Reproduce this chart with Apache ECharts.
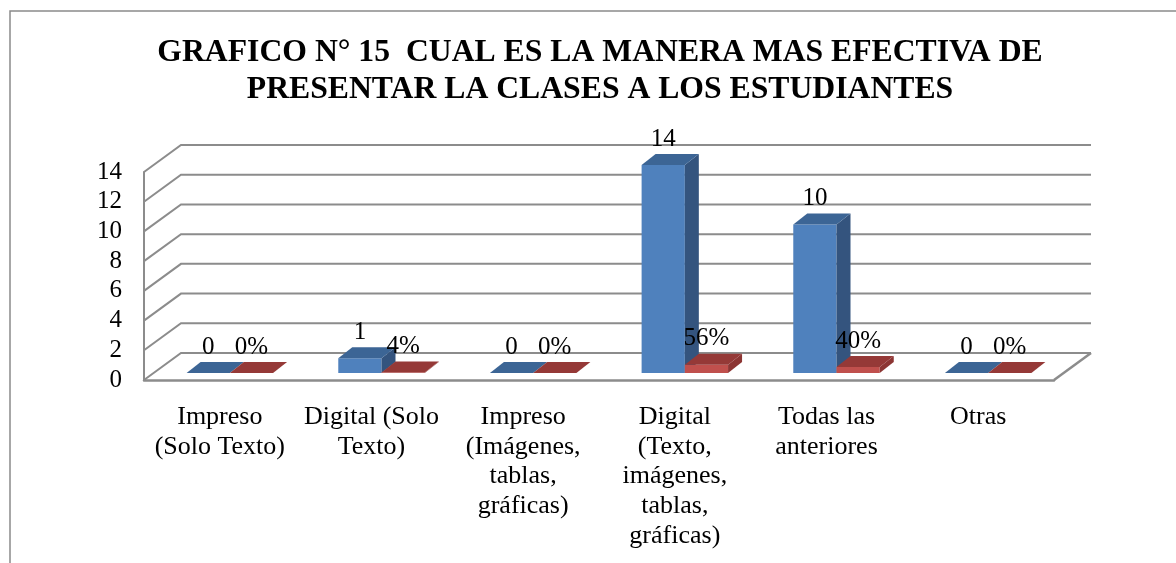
<!DOCTYPE html>
<html>
<head>
<meta charset="utf-8">
<script src="https://cdn.jsdelivr.net/npm/echarts@6/dist/echarts.min.js"></script>
<style>
  html, body { margin: 0; padding: 0; background: #fff; }
  #main { width: 1176px; height: 563px; }
</style>
</head>
<body>
<div id="main"></div>
<script>
// data
const categories = [
  'Impreso\n(Solo Texto)',
  'Digital (Solo\nTexto)',
  'Impreso\n(Imágenes,\ntablas,\ngráficas)',
  'Digital\n(Texto,\nimágenes,\ntablas,\ngráficas)',
  'Todas las\nanteriores',
  'Otras'
];
const counts = [0, 1, 0, 14, 10, 0];
const percents = [0, 4, 0, 56, 40, 0];
const yTicks = [0, 2, 4, 6, 8, 10, 12, 14];

// style constants
const FONT = '"Liberation Serif", "Times New Roman", serif';
const DEPTH = [37, -27];      // back wall offset
const BAR_OFF = [10, -7];     // bars sit a bit into the floor
const BAR_DEPTH = [14, -11];
const GRID_COLOR = '#8c8c8c';

const chart = echarts.init(document.getElementById('main'));

function wallRender(params, api) {
  const cs = params.coordSys;
  const v = api.value(1);
  const y = api.coord([0, v])[1];
  const gx = cs.x, gr = cs.x + cs.width;
  const children = [{
    type: 'polyline',
    shape: { points: [[gx, y], [gx + DEPTH[0], y + DEPTH[1]], [gr + DEPTH[0], y + DEPTH[1]]] },
    style: { stroke: GRID_COLOR, lineWidth: 2, fill: null }
  }];
  if (v === 0) {
    children.push({
      type: 'line',
      shape: { x1: gr, y1: y, x2: gr + DEPTH[0], y2: y + DEPTH[1] },
      style: { stroke: GRID_COLOR, lineWidth: 2.5 }
    });
  }
  return { type: 'group', children: children };
}

function barRender(idx, cols, fmt) {
  return function (params, api) {
    const cat = api.value(0), v = api.value(1);
    const base = api.coord([cat, 0]);
    const top = api.coord([cat, v]);
    const bw = api.size([1, 0])[0] * 0.285;
    const cx = base[0] + BAR_OFF[0];
    const x0 = idx === 0 ? cx - bw : cx;
    const x1 = x0 + bw;
    const yb = base[1] + BAR_OFF[1], yt = top[1] + BAR_OFF[1];
    const dx = BAR_DEPTH[0], dy = BAR_DEPTH[1];
    const children = [];
    if (yb - yt > 0.5) {
      children.push({
        type: 'rect', shape: { x: x0, y: yt, width: bw, height: yb - yt },
        style: { fill: cols.front }
      });
      children.push({
        type: 'polygon',
        shape: { points: [[x1, yt], [x1 + dx, yt + dy], [x1 + dx, yb + dy], [x1, yb]] },
        style: { fill: cols.side }
      });
    }
    children.push({
      type: 'polygon',
      shape: { points: [[x0, yt], [x1, yt], [x1 + dx, yt + dy], [x0 + dx, yt + dy]] },
      style: { fill: cols.top }
    });
    children.push({
      type: 'text',
      x: (x0 + x1) / 2, y: yt - 26,
      style: {
        text: fmt(api.value(2)), fill: '#000', font: '25px ' + FONT,
        align: 'center', verticalAlign: 'middle'
      }
    });
    return { type: 'group', children: children };
  };
}

const option = {
  animation: false,
  backgroundColor: '#fff',
  graphic: [{
    type: 'rect', silent: true,
    shape: { x: 10, y: 11, width: 1300, height: 700 },
    style: { fill: null, stroke: '#8a8a8a', lineWidth: 1.5 }
  }],
  title: {
    text: 'GRAFICO N° 15  CUAL ES LA MANERA MAS EFECTIVA DE\nPRESENTAR LA CLASES A LOS ESTUDIANTES',
    left: 600, top: 34, padding: 0, textAlign: 'center',
    textStyle: { fontFamily: FONT, fontSize: 31.7, fontWeight: 'bold', color: '#000', lineHeight: 37.5 }
  },
  grid: { left: 144, right: 122, top: 172, bottom: 183, containLabel: false },
  xAxis: {
    type: 'category',
    data: categories,
    axisLine: { show: true, lineStyle: { color: GRID_COLOR, width: 2.5 } },
    axisTick: { show: false },
    axisLabel: {
      interval: 0, margin: 22, color: '#000', fontFamily: FONT, fontSize: 26, lineHeight: 29.8
    },
    splitLine: { show: false }
  },
  yAxis: {
    type: 'value', min: 0, max: 14, interval: 2,
    axisLine: { show: true, lineStyle: { color: GRID_COLOR, width: 2 } },
    axisTick: { show: false },
    axisLabel: { margin: 22, color: '#000', fontFamily: FONT, fontSize: 25 },
    splitLine: { show: false }
  },
  series: [
    {
      type: 'custom', name: 'walls', clip: false, z: 1,
      renderItem: wallRender,
      encode: { x: 0, y: 1 },
      data: yTicks.map(t => [0, t])
    },
    {
      type: 'custom', name: 'Cantidad', clip: false, z: 2,
      renderItem: barRender(0, { front: '#4f81bd', side: '#34547e', top: '#3c6595' }, v => String(v)),
      encode: { x: 0, y: 1 },
      data: counts.map((c, i) => [i, c, c])
    },
    {
      type: 'custom', name: 'Porcentaje', clip: false, z: 3,
      renderItem: barRender(1, { front: '#c0504d', side: '#8c3533', top: '#953937' }, v => v + '%'),
      encode: { x: 0, y: 1 },
      data: percents.map((p, i) => [i, p / 100, p])
    }
  ]
};
chart.setOption(option);
</script>
</body>
</html>
